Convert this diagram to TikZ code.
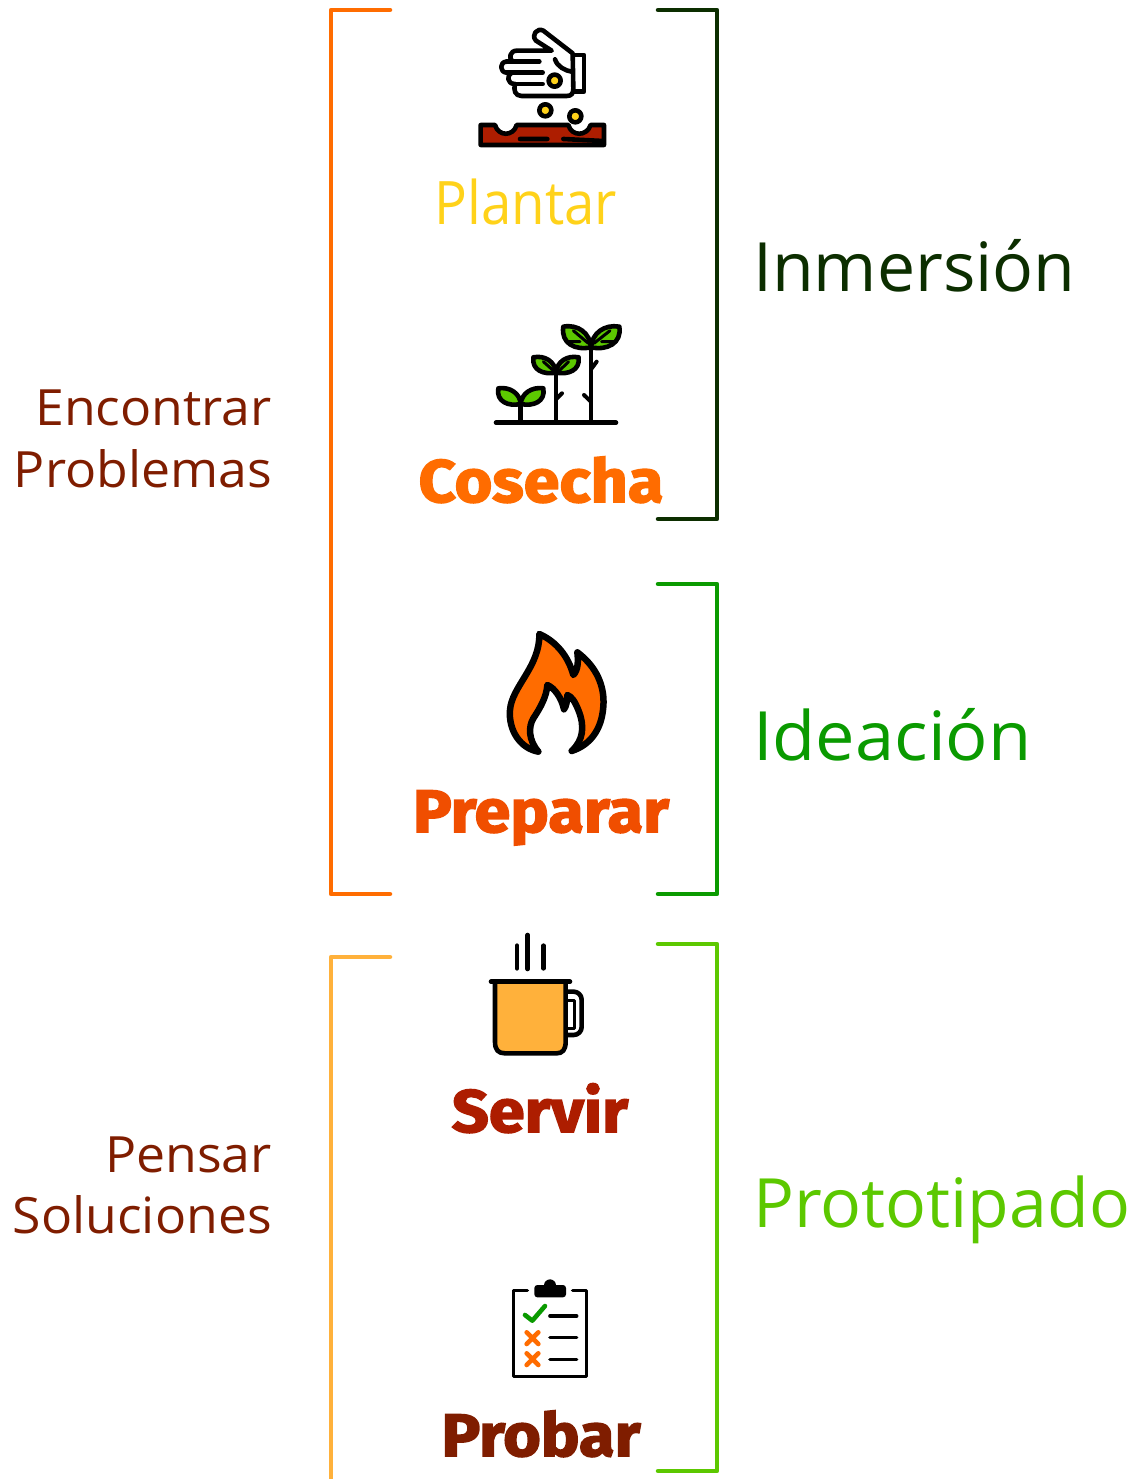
\documentclass[tikz,border=0pt]{standalone}
\usepackage{fontspec}
\setmainfont{Open Sans}
\newfontfamily\heavyfont[FakeStretch=1.08,BoldFeatures={FakeBold=2.5}]{Fira Sans}
\newfontfamily\widefont[FakeStretch=1.035]{Open Sans}
\newfontfamily\narrowfont[FakeStretch=0.91]{Open Sans}
\definecolor{myred}{RGB}{173,29,0}
\definecolor{mybrown}{RGB}{127,29,0}
\definecolor{myorange}{RGB}{255,108,0}
\definecolor{myflame}{RGB}{240,78,0}
\definecolor{myamber}{RGB}{255,177,59}
\definecolor{myyellow}{RGB}{255,210,26}
\definecolor{mydark}{RGB}{12,46,0}
\definecolor{mygreen}{RGB}{10,154,0}
\definecolor{mylime}{RGB}{92,200,0}

\begin{document}
\begin{tikzpicture}[x=1pt,y=-1pt,inner sep=0pt]
\tikzstyle{bracket}=[line width=4.5pt, line cap=round, line join=round]
\tikzstyle{stage}=[anchor=base west, font=\fontsize{68}{68}\selectfont]
\tikzstyle{side}=[anchor=base east, text=mybrown, font=\widefont\fontsize{50}{50}\selectfont]
\tikzstyle{title}=[anchor=base, font=\heavyfont\bfseries\fontsize{60}{60}\selectfont]
\tikzstyle{icon}=[line width=4.6pt, line cap=round, line join=round, draw=black]
\tikzstyle{thin}=[line width=3.6pt, line cap=round, line join=round, draw=black]
\useasboundingbox (0,0) rectangle (1138,1479);
% brackets
\draw[bracket,myorange] (390,10) -- (331,10) -- (331,894) -- (390,894);
\draw[bracket,myamber] (390,957) -- (331,957) -- (331,1485);
\draw[bracket,mydark] (658,10) -- (717,10) -- (717,519) -- (658,519);
\draw[bracket,mygreen] (658,584) -- (717,584) -- (717,894) -- (658,894);
\draw[bracket,mylime] (658,944) -- (717,944) -- (717,1471) -- (658,1471);
% labels
\node[stage,text=mydark] (inmersion) at (753,291) {Inmersión};
\node[stage,text=mygreen,font=\widefont\fontsize{68}{68}\selectfont] (ideacion) at (753,760) {Ideación};
\node[stage,text=mylime] (prototipado) at (753,1227) {Prototipado};
\node[side] (encontrar) at (272,425) {Encontrar};
\node[side] (problemas) at (272,487) {Problemas};
\node[side] (pensar) at (272,1172) {Pensar};
\node[side] (soluciones) at (272,1233) {Soluciones};
\node[anchor=base,text=myyellow,font=\narrowfont\fontsize{60}{60}\selectfont] (plantar) at (526,225) {Plantar};
\node[title,text=myorange] (cosecha) at (541,502) {Cosecha};
\node[title,text=myflame] (preparar) at (541,832) {Preparar};
\node[title,text=myred] (servir) at (540,1132) {Servir};
\node[title,text=mybrown] (probar) at (541,1456) {Probar};
% seeds
\begin{scope}[shift={(460,10)},x=0.3333pt,y=-0.3333pt]
\draw[icon,fill=white] (340,135) -- (372,135) -- (372,245) -- (340,245);
\draw[icon,fill=white] (338,130) -- (250,62) .. controls (232,52) and (212,75) .. (228,92) -- (275,122) -- (170,122) .. controls (150,122) and (145,145) .. (158,155) -- (140,155) .. controls (118,155) and (118,187) .. (140,188) -- (155,188) .. controls (140,195) and (140,222) .. (165,222) .. controls (160,240) and (165,258) .. (185,258) -- (320,258) .. controls (335,258) and (340,250) .. (340,235) -- cycle;
\draw[icon] (140,155) -- (238,155) (140,188) -- (248,188) (165,222) -- (248,222);
\draw[icon] (285,148) .. controls (292,170) and (315,182) .. (335,185);
\draw[icon,fill=myyellow] (284,212) circle (18);
\draw[icon,fill=myyellow] (256,301) circle (18);
\draw[icon,fill=myyellow] (346,319) circle (18);
\draw[icon,fill=myred] (62,345) -- (105,345) .. controls (115,380) and (160,380) .. (170,345) -- (325,345) .. controls (335,380) and (380,380) .. (392,345) -- (432,345) -- (432,405) -- (62,405) -- cycle;
\draw[icon] (180,387) -- (262,387) (310,387) -- (428,393);
\end{scope}
% sprouts
\begin{scope}[shift={(480,310)},x=0.3333pt,y=-0.3333pt]
\draw[icon] (48,338) -- (408,338);
\draw[icon] (122,338) -- (122,285) (228,338) -- (228,185) (333,338) -- (333,112);
\draw[icon,line width=4pt] (228,268) -- (246,250) (333,178) -- (350,155) (333,275) -- (312,255);
\draw[icon,fill=mylime] (55,235) .. controls (90,230) and (120,250) .. (122,282) .. controls (85,290) and (48,275) .. (55,235);
\draw[icon,fill=mylime] (190,235) .. controls (155,230) and (125,250) .. (122,282) .. controls (160,290) and (197,275) .. (190,235);
\draw[icon,fill=mylime] (160,142) .. controls (195,135) and (225,155) .. (228,188) .. controls (190,195) and (155,180) .. (160,142);
\draw[icon,fill=mylime] (296,142) .. controls (261,135) and (231,155) .. (228,188) .. controls (266,195) and (301,180) .. (296,142);
\draw[icon,fill=mylime] (250,50) .. controls (295,42) and (330,70) .. (333,112) .. controls (285,122) and (242,100) .. (250,50);
\draw[icon,fill=mylime] (418,50) .. controls (373,42) and (336,70) .. (333,112) .. controls (381,122) and (426,100) .. (418,50);
\draw[thin,line width=3pt] (190,155) -- (218,180) (266,155) -- (240,180);
\draw[thin,line width=3pt] (280,62) -- (325,100) (390,62) -- (342,100) (262,95) -- (300,95) (405,95) -- (365,95);
\end{scope}
% flame
\begin{scope}[shift={(490,620)},x=0.3333pt,y=-0.3333pt]
\draw[icon,line width=6.5pt,fill=myorange] (148,42) .. controls (200,65) and (235,110) .. (250,165) .. controls (265,150) and (265,120) .. (262,97) .. controls (320,140) and (345,200) .. (340,260) .. controls (335,330) and (300,375) .. (245,393) .. controls (280,360) and (285,320) .. (265,270) .. controls (255,245) and (245,230) .. (232,225) .. controls (232,245) and (228,260) .. (222,268) .. controls (215,235) and (195,205) .. (172,195) .. controls (170,230) and (150,265) .. (130,295) .. controls (115,320) and (115,360) .. (145,395) .. controls (90,385) and (55,330) .. (60,270) .. controls (65,200) and (150,140) .. (148,42) -- cycle;
\end{scope}
% mug
\begin{scope}[shift={(475,925)},x=0.3333pt,y=-0.3333pt]
\draw[icon] (126,62) -- (126,130) (158,30) -- (158,132) (205,62) -- (205,130);
\draw[icon,rounded corners=8pt] (272,200) -- (320,200) -- (320,330) -- (272,330);
\draw[thin,line width=3pt] (278,225) -- (298,225) -- (298,310) -- (278,310);
\draw[icon,fill=myamber] (60,170) -- (60,350) .. controls (60,375) and (70,385) .. (90,385) -- (245,385) .. controls (262,385) and (272,375) .. (272,350) -- (272,170) -- cycle;
\draw[icon] (48,170) -- (285,170);
\end{scope}
% checklist
\begin{scope}[shift={(495,1270)},x=0.3333pt,y=-0.3333pt]
\draw[thin] (97,62) -- (55,62) -- (55,320) -- (275,320) -- (275,62) -- (233,62);
\fill[rounded corners=3pt] (118,45) rectangle (213,82);
\fill (165,46) circle (18);
\draw[icon,mygreen] (90,135) -- (112,152) -- (150,108);
\draw[icon,myorange] (95,187) -- (130,222) (130,187) -- (95,222) (95,250) -- (130,285) (130,250) -- (95,285);
\draw[thin] (165,138) -- (245,138) (165,203) -- (245,203) (165,268) -- (245,268);
\end{scope}
\end{tikzpicture}
\end{document}
